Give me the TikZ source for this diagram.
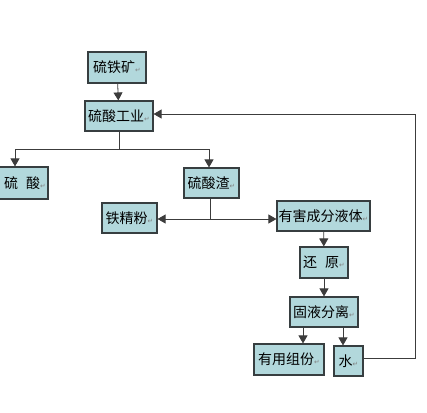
\documentclass[tikz,border=0pt]{standalone}
\usepackage{fontspec}
\setmainfont{Noto Sans CJK SC}
\newfontfamily\symfont{DejaVu Sans}
\usepackage{tikz}
\usetikzlibrary{arrows,shapes,positioning}
\definecolor{boxfill}{RGB}{178,216,220}
\definecolor{boxline}{RGB}{55,62,64}
\definecolor{wire}{RGB}{60,60,60}
\newcommand{\ret}{\textcolor{gray}{\symfont\tiny\char"21B5}}
\tikzset{stage/.style={draw=boxline,line width=0.9pt,fill=boxfill,inner sep=0pt,font=\fontsize{10.5}{12}\selectfont},
  flow/.style={draw=wire,line width=0.6pt,-triangle 60}}
\begin{document}
\begin{tikzpicture}[x=0.75pt,y=-0.75pt]
\clip (0,0) rectangle (427,412);
\useasboundingbox (0,0) rectangle (427,412);
    %the boxes
    \node[stage,minimum width=43.5pt,minimum height=23.25pt] (kuang) at (117,67.5) {硫铁矿\ret};
    \node[stage,minimum width=51pt,minimum height=22.5pt] (gongye) at (119,116) {硫酸工业\ret};
    \node[stage,minimum width=43.5pt,minimum height=24pt] (liusuan) at (19,183) {\hspace*{9pt}硫\hspace{6pt}酸\ret};
    \node[stage,minimum width=41.25pt,minimum height=22.5pt] (zha) at (211.5,183) {硫酸渣\ret};
    \node[stage,minimum width=41.25pt,minimum height=22.5pt] (fen) at (129.5,218) {铁精粉\ret};
    \node[stage,minimum width=69.75pt,minimum height=22.5pt] (yeti) at (323.5,216) {有害成分液体\ret};
    \node[stage,minimum width=36pt,minimum height=23.25pt] (huanyuan) at (324,262.5) {还\hspace{6pt}原\ret};
    \node[stage,minimum width=51pt,minimum height=22.5pt] (fenli) at (324,312) {固液分离\ret};
    \node[stage,minimum width=52.5pt,minimum height=23.25pt] (zufen) at (289,359.5) {有用组份\ret};
    \node[stage,minimum width=21.75pt,minimum height=22.5pt] (shui) at (348.5,361) {水\ret};
%the corners
    \coordinate (split) at (119,149);
    \coordinate (fork) at (210,219);
    \coordinate (back) at (415,358);
%the arrows
    \draw[flow] (kuang) -- (gongye);
    \draw[draw=wire,line width=0.6pt] (gongye) -- (split);
    \draw[flow] (split) -| (liusuan.north -| 15,0);
    \draw[flow] (split) -| (zha.north -| 209,0);
    \draw[draw=wire,line width=0.6pt] (zha.south -| fork) -- (fork);
    \draw[flow] (fork) -- (fen.east |- fork);
    \draw[flow] (fork) -- (yeti.west |- fork);
    \draw[flow] (yeti) -- (huanyuan);
    \draw[flow] (huanyuan) -- (fenli);
    \draw[flow] (fenli.south -| 303,0) -- (zufen.north -| 303,0);
    \draw[flow] (fenli.south -| 343,0) -- (shui.north -| 343,0);
    \draw[flow] (shui.east |- back) -- (back) |- (gongye.east |- 0,114);
\end{tikzpicture}
\end{document}
